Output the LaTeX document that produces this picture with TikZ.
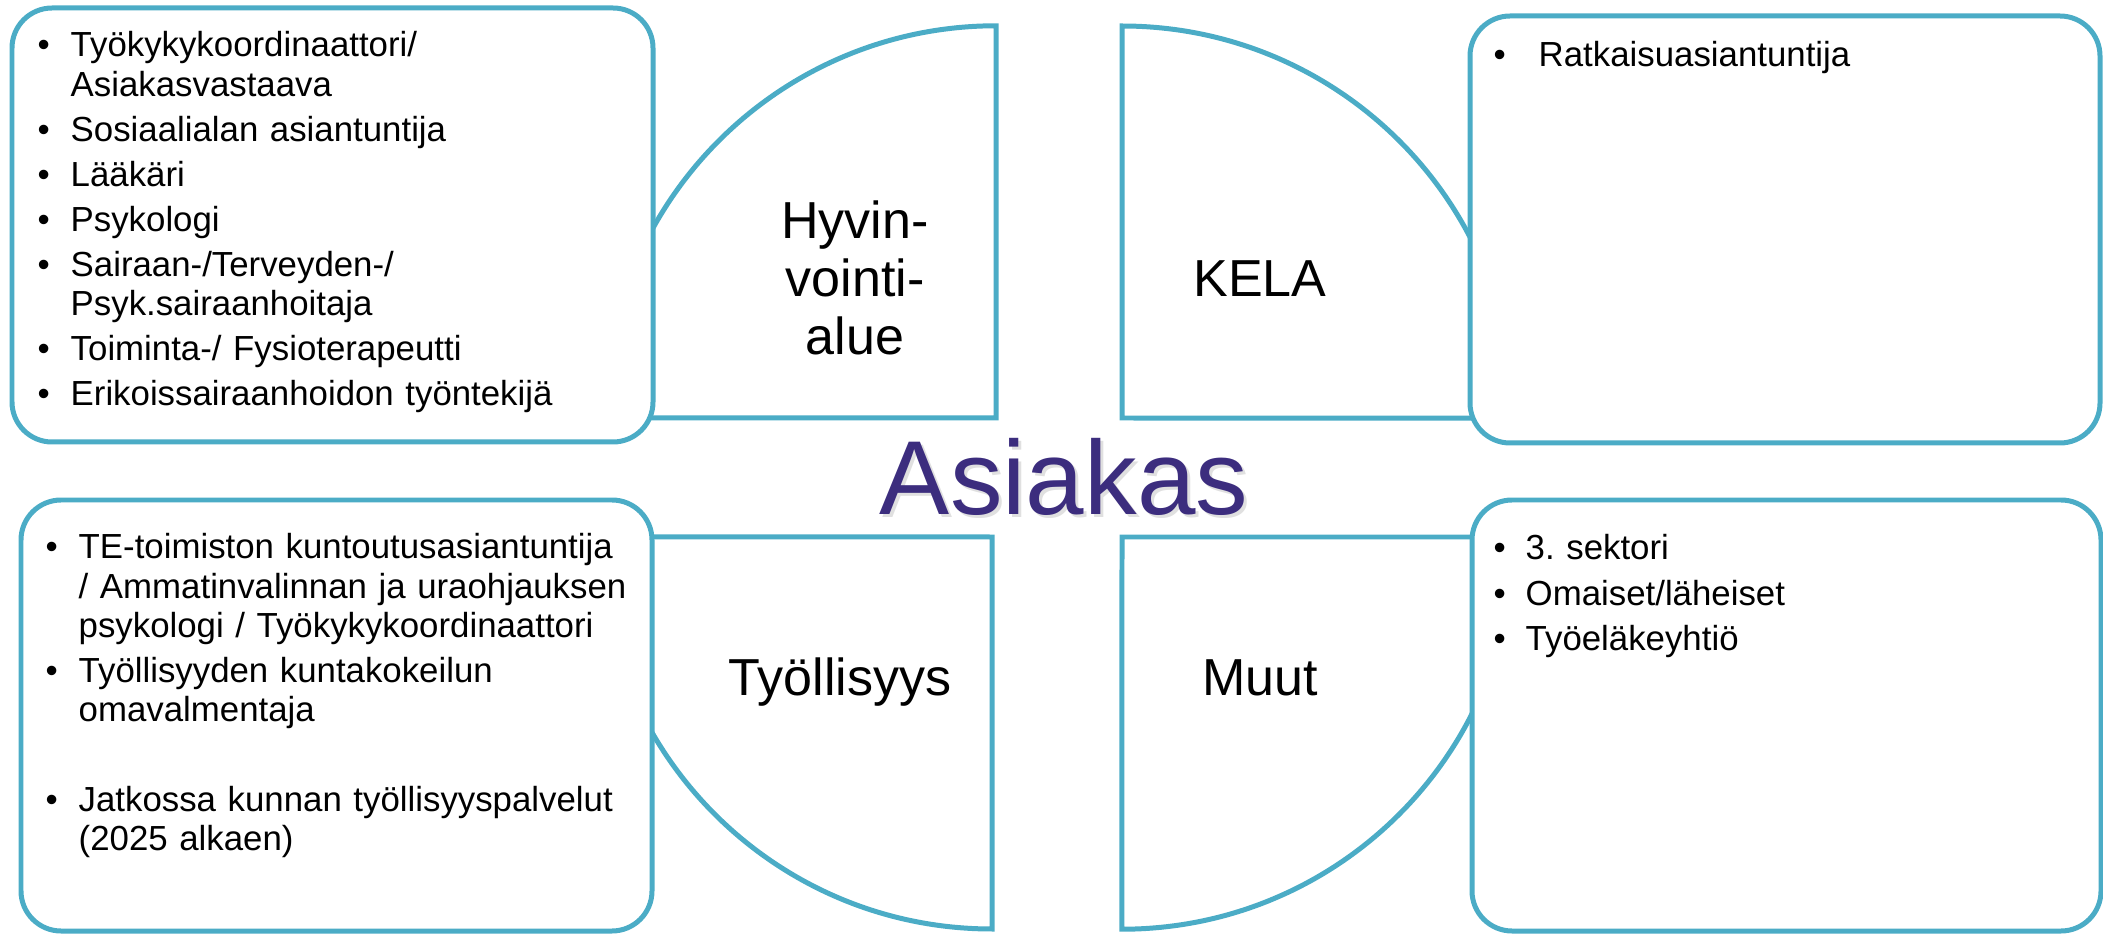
\documentclass[tikz,border=0pt]{standalone}
\usepackage{fontspec}
\setmainfont{Liberation Sans}
\definecolor{rim}{HTML}{4BACC6}
\definecolor{client}{HTML}{3C2D7E}
\newlength{\roleindent}
\setlength{\roleindent}{0.33cm}
\newcommand{\roleitem}[1]{\hangindent=\roleindent\hangafter=1\noindent\makebox[\roleindent][l]{\textbullet}#1\setlength{\parskip}{1.7pt}\par}
\tikzset{
  quarter/.style={draw=rim, fill=white, line width=1.42pt},
  card/.style={draw=rim, fill=white, line width=1.42pt, rounded corners=0.4cm},
  sectorlab/.style={font=\fontsize{14.8pt}{16.6pt}\selectfont, align=center, inner sep=0pt},
  rolelist/.style={anchor=base west, inner sep=0pt, align=left, text width=6.3cm, font=\fontsize{9.9pt}{11.1pt}\selectfont\frenchspacing},
  clientlab/.style={text=client, font=\fontsize{29.9pt}{32pt}\selectfont, inner sep=0pt, anchor=base},
}

\begin{document}
\begin{tikzpicture}[x=0.01cm, y=0.01cm]
  \useasboundingbox (0,0) rectangle (2103,933);
  \coordinate (HC) at (996,515);
  \coordinate (KC) at (1122,515);
  \coordinate (TC) at (992,396);
  \coordinate (MC) at (1122,396);

  % quarters round the client
  \draw[quarter] (HC) -- ++(-392,0) arc (180:90:3.92cm) -- cycle;
  \draw[quarter] (KC) -- ++(0,392) arc (90:0:3.92cm) -- cycle;
  \draw[quarter] (TC) -- ++(0,-392) arc (270:180:3.92cm) -- cycle;
  \draw[quarter] (MC) -- ++(392,0) arc (0:-90:3.92cm) -- cycle;

  % corner cards
  \draw[card] (12,491) rectangle (653,925);
  \draw[card] (1470,490) rectangle (2100,917);
  \draw[card] (21,2) rectangle (652,433);
  \draw[card] (1472,2) rectangle (2101,433);

  \node[rolelist] (hyvlist) at (37,876) {%
    \roleitem{Työkykykoordinaattori/\newline Asiakasvastaava}%
    \roleitem{Sosiaalialan asiantuntija}%
    \roleitem{Lääkäri}%
    \roleitem{Psykologi}%
    \roleitem{Sairaan-/Terveyden-/\newline Psyk.sairaanhoitaja}%
    \roleitem{Toiminta-/ Fysioterapeutti}%
    \roleitem{Erikoissairaanhoidon työntekijä}};
  \node[rolelist] (kelalist) at (1493,866) {%
    \setlength{\roleindent}{0.45cm}%
    \roleitem{Ratkaisuasiantuntija}};
  \node[rolelist] (tyolist) at (45,374) {%
    \roleitem{TE-toimiston kuntoutusasiantuntija\newline / Ammatinvalinnan ja uraohjauksen\newline psykologi / Työkykykoordinaattori}%
    \roleitem{Työllisyyden kuntakokeilun\newline omavalmentaja}%
    \vspace{12.8pt}%
    \roleitem{Jatkossa kunnan työllisyyspalvelut\newline (2025 alkaen)}};
  \node[rolelist] (muutlist) at (1493,373) {%
    \setlength{\roleindent}{0.32cm}%
    \roleitem{3. sektori}%
    \roleitem{Omaiset/läheiset}%
    \roleitem{Työeläkeyhtiö}};

  \node[sectorlab] (hyv) at (855,655) {Hyvin-\\vointi-\\alue};
  \node[sectorlab, anchor=base] (kela) at (1260,636) {KELA};
  \node[sectorlab, anchor=base] (tyo) at (840,238) {Työllisyys};
  \node[sectorlab, anchor=base] (muut) at (1260,238) {Muut};

  \node[clientlab, text=black!12] (clientshadow) at (1067,415) {Asiakas};
  \node[clientlab] (client) at (1064,418) {Asiakas};
\end{tikzpicture}
\end{document}
